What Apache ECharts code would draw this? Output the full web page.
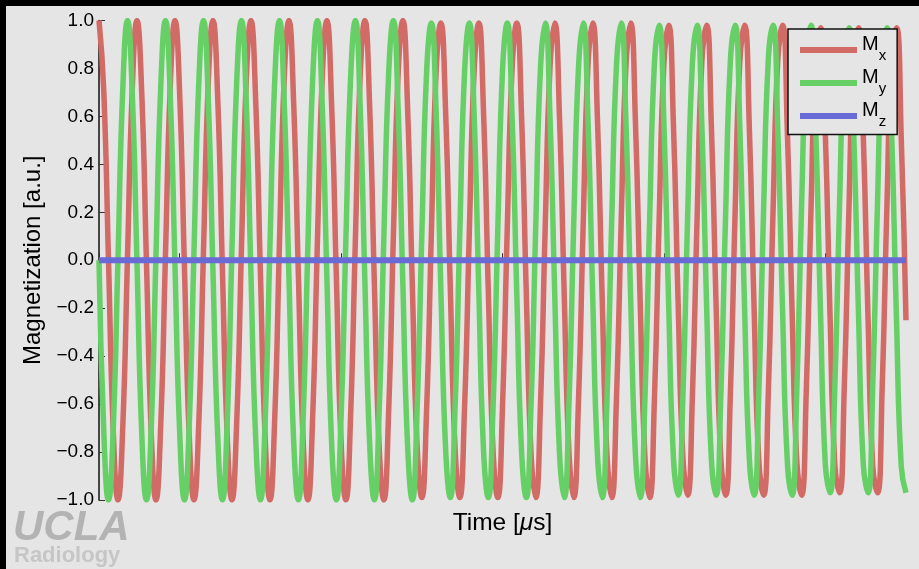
<!DOCTYPE html>
<html>
<head>
<meta charset="utf-8">
<script src="https://cdn.jsdelivr.net/npm/echarts@6/dist/echarts.min.js"></script>
<style>
  html, body { margin: 0; padding: 0; background: #e5e5e5; }
  #chart { width: 919px; height: 569px; }
</style>
</head>
<body>
<div id="chart"></div>
<script>
// Transverse magnetization of a precessing spin, sampled every 0.5/170 µs over 0.5 µs
const SAMPLE_STEP_US = 0.5 / 170;

const mxValues = [
  1.00, 0.71, 0.00, -0.71, -1.00, -0.70, 0.01, 0.71,
  1.00, 0.70, -0.01, -0.72, -1.00, -0.69, 0.02, 0.72,
  1.00, 0.69, -0.03, -0.73, -1.00, -0.69, 0.03, 0.73,
  1.00, 0.68, -0.04, -0.73, -1.00, -0.68, 0.04, 0.74,
  1.00, 0.67, -0.05, -0.74, -1.00, -0.67, 0.06, 0.75,
  1.00, 0.66, -0.06, -0.75, -1.00, -0.66, 0.07, 0.75,
  1.00, 0.65, -0.07, -0.76, -1.00, -0.65, 0.08, 0.76,
  1.00, 0.65, -0.09, -0.77, -1.00, -0.64, 0.09, 0.77,
  1.00, 0.64, -0.10, -0.77, -0.99, -0.63, 0.10, 0.78,
  0.99, 0.63, -0.11, -0.78, -0.99, -0.62, 0.11, 0.78,
  0.99, 0.62, -0.12, -0.79, -0.99, -0.61, 0.13, 0.79,
  0.99, 0.61, -0.13, -0.80, -0.99, -0.60, 0.14, 0.80,
  0.99, 0.60, -0.14, -0.80, -0.99, -0.59, 0.15, 0.81,
  0.99, 0.59, -0.16, -0.81, -0.99, -0.58, 0.16, 0.81,
  0.99, 0.58, -0.17, -0.82, -0.99, -0.58, 0.17, 0.82,
  0.98, 0.57, -0.18, -0.82, -0.98, -0.57, 0.18, 0.83,
  0.98, 0.56, -0.19, -0.83, -0.98, -0.56, 0.20, 0.83,
  0.98, 0.55, -0.20, -0.84, -0.98, -0.55, 0.21, 0.84,
  0.98, 0.54, -0.21, -0.84, -0.98, -0.54, 0.22, 0.85,
  0.97, 0.53, -0.23, -0.85, -0.97, -0.53, 0.23, 0.85,
  0.97, 0.52, -0.24, -0.86, -0.97, -0.52, 0.24, 0.86,
  0.97, 0.51, -0.25
];

const myValues = [
  0.00, -0.71, -1.00, -0.70, 0.01, 0.71, 1.00, 0.70,
  -0.01, -0.72, -1.00, -0.70, 0.02, 0.72, 1.00, 0.69,
  -0.02, -0.72, -1.00, -0.69, 0.03, 0.73, 1.00, 0.68,
  -0.04, -0.73, -1.00, -0.68, 0.04, 0.74, 1.00, 0.67,
  -0.05, -0.74, -1.00, -0.67, 0.05, 0.74, 1.00, 0.67,
  -0.06, -0.75, -1.00, -0.66, 0.06, 0.75, 1.00, 0.66,
  -0.07, -0.76, -1.00, -0.65, 0.08, 0.76, 1.00, 0.65,
  -0.08, -0.76, -1.00, -0.64, 0.09, 0.77, 1.00, 0.64,
  -0.09, -0.77, -1.00, -0.63, 0.10, 0.78, 0.99, 0.63,
  -0.11, -0.78, -0.99, -0.62, 0.11, 0.78, 0.99, 0.62,
  -0.12, -0.79, -0.99, -0.62, 0.12, 0.79, 0.99, 0.61,
  -0.13, -0.79, -0.99, -0.61, 0.14, 0.80, 0.99, 0.60,
  -0.14, -0.80, -0.99, -0.60, 0.15, 0.80, 0.99, 0.59,
  -0.15, -0.81, -0.99, -0.59, 0.16, 0.81, 0.99, 0.58,
  -0.16, -0.81, -0.99, -0.58, 0.17, 0.82, 0.98, 0.57,
  -0.18, -0.82, -0.98, -0.57, 0.18, 0.82, 0.98, 0.56,
  -0.19, -0.83, -0.98, -0.56, 0.19, 0.83, 0.98, 0.55,
  -0.20, -0.83, -0.98, -0.55, 0.21, 0.84, 0.98, 0.54,
  -0.21, -0.84, -0.98, -0.54, 0.22, 0.84, 0.98, 0.53,
  -0.22, -0.85, -0.97, -0.53, 0.23, 0.85, 0.97, 0.52,
  -0.23, -0.85, -0.97, -0.52, 0.24, 0.86, 0.97, 0.51,
  -0.25, -0.86, -0.97
];

// Longitudinal component stays at zero over the whole window
const mzTimes = [0, 0.5];
const mzValues = [0, 0];

const seriesNames = ['Mx', 'My', 'Mz'];
const seriesSubscripts = { Mx: 'x', My: 'y', Mz: 'z' };
const yTickValues = [-1.0, -0.8, -0.6, -0.4, -0.2, 0.0, 0.2, 0.4, 0.6, 0.8, 1.0];

const COLORS = { Mx: '#d26a66', My: '#66d066', Mz: '#6a6ad6' };
const FONT = '"Liberation Sans", Arial, Helvetica, sans-serif';

const sampled = vals => vals.map((v, k) => [k * SAMPLE_STEP_US, v]);

const chart = echarts.init(document.getElementById('chart'), null, { renderer: 'canvas' });

chart.setOption({
  backgroundColor: '#e5e5e5',
  animation: false,
  textStyle: { fontFamily: FONT },
  grid: { left: 99, right: 13, top: 20.5, bottom: 69, containLabel: false },
  xAxis: {
    type: 'value',
    min: 0,
    max: 0.5,
    interval: 0.05,
    name: '{n|Time [}{i|μ}{n|s]}',
    nameLocation: 'middle',
    nameGap: 11,
    nameTextStyle: {
      rich: {
        n: { fontSize: 24.5, color: '#000', fontFamily: FONT },
        i: { fontSize: 24.5, color: '#000', fontFamily: FONT, fontStyle: 'italic' }
      }
    },
    axisLine: { show: true, lineStyle: { color: '#111', width: 1.5 } },
    axisTick: { show: true, inside: true, length: 7, lineStyle: { color: '#333', width: 1 } },
    axisLabel: { show: false },
    splitLine: { show: false }
  },
  yAxis: {
    type: 'value',
    min: -1,
    max: 1,
    interval: 0.2,
    name: 'Magnetization [a.u.]',
    nameLocation: 'middle',
    nameGap: 54,
    nameTextStyle: { fontSize: 24, color: '#000', fontFamily: FONT },
    axisLine: { show: true, lineStyle: { color: '#111', width: 1.5 } },
    axisTick: { show: true, inside: true, length: 6, lineStyle: { color: '#333', width: 1 } },
    axisLabel: {
      show: true,
      margin: 5,
      fontSize: 19,
      color: '#000',
      fontFamily: FONT,
      formatter: v => {
        const t = yTickValues.find(x => Math.abs(x - v) < 1e-9);
        const num = (t === undefined ? v : t);
        const s = Math.abs(num).toFixed(1);
        return num < -1e-9 ? '\u2212' + s : s;
      }
    },
    splitLine: { show: false }
  },
  legend: {
    orient: 'vertical',
    left: 788,
    top: 29,
    padding: [5.5, 11, 5, 12],
    itemGap: 4,
    itemWidth: 57,
    itemHeight: 6,
    backgroundColor: '#e5e5e5',
    borderColor: '#111',
    borderWidth: 1.5,
    borderRadius: 0,
    selectedMode: false,
    data: seriesNames.map(n => ({ name: n, icon: 'rect' })),
    formatter: name => '{m|M}{s|' + seriesSubscripts[name] + '}',
    textStyle: {
      rich: {
        m: { fontSize: 20, color: '#000', fontFamily: FONT, verticalAlign: 'top' },
        s: { fontSize: 15, color: '#000', fontFamily: FONT, verticalAlign: 'top', padding: [14, 0, 2, 0] }
      }
    }
  },
  series: [
    {
      name: 'Mx',
      type: 'line',
      data: sampled(mxValues),
      smooth: 0.5,
      showSymbol: false,
      symbol: 'none',
      z: 2,
      lineStyle: { color: COLORS.Mx, width: 5.5, cap: 'butt' },
      itemStyle: { color: COLORS.Mx }
    },
    {
      name: 'My',
      type: 'line',
      data: sampled(myValues),
      smooth: 0.5,
      showSymbol: false,
      symbol: 'none',
      z: 3,
      lineStyle: { color: COLORS.My, width: 5.5, cap: 'butt' },
      itemStyle: { color: COLORS.My }
    },
    {
      name: 'Mz',
      type: 'line',
      data: mzTimes.map((t, i) => [t, mzValues[i]]),
      showSymbol: false,
      symbol: 'none',
      z: 4,
      lineStyle: { color: COLORS.Mz, width: 6, cap: 'butt' },
      itemStyle: { color: COLORS.Mz }
    }
  ],
  graphic: [
    { type: 'rect', left: 0, top: 0, shape: { width: 919, height: 6 }, style: { fill: '#000' }, silent: true },
    { type: 'rect', left: 0, top: 0, shape: { width: 6, height: 569 }, style: { fill: '#000' }, silent: true },
    {
      type: 'text', left: 13, top: 507, silent: true,
      style: { text: 'UCLA', fill: '#b3b3b3', font: 'italic bold 42px ' + FONT }
    },
    {
      type: 'text', left: 14, top: 545, silent: true,
      style: { text: 'Radiology', fill: '#c6c6c6', font: 'bold 22px ' + FONT }
    }
  ]
});
</script>
</body>
</html>
